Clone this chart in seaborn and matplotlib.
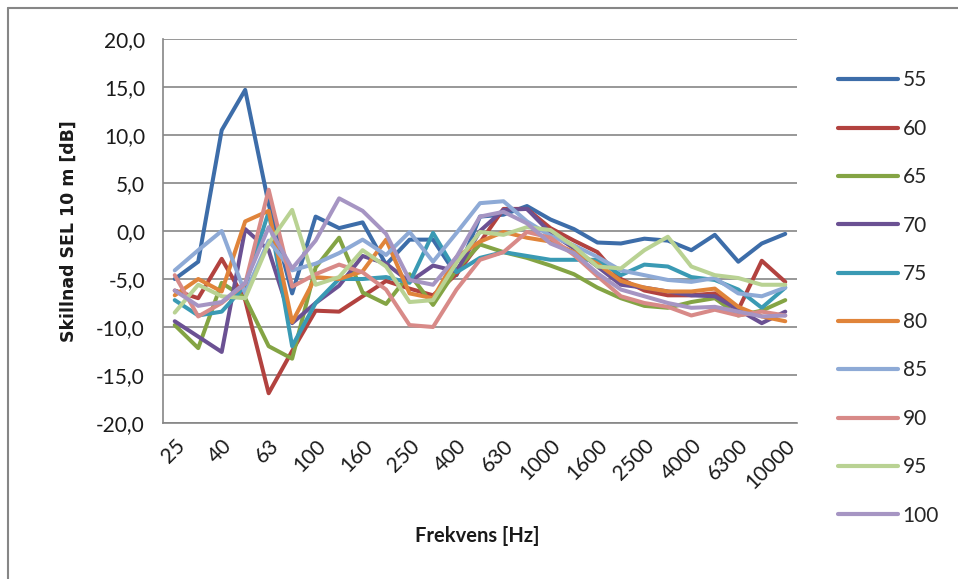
import numpy as np
import pandas as pd
import matplotlib
matplotlib.use("Agg")
import matplotlib.pyplot as plt
import seaborn as sns
from matplotlib.lines import Line2D
from matplotlib.ticker import FuncFormatter, FixedLocator

freqs = ["25", "31.5", "40", "50", "63", "80", "100", "125", "160", "200", "250", "315",
         "400", "500", "630", "800", "1000", "1250", "1600", "2000", "2500", "3150",
         "4000", "5000", "6300", "8000", "10000"]

s55 = [-5.0, -3.2, 10.5, 14.7, 2.8, -6.5, 1.5, 0.3, 0.9, -3.5, -0.9, -0.9, -4.6, 1.5, 1.7, 2.6, 1.2, 0.2, -1.2, -1.3, -0.8, -1.0, -2.0, -0.4, -3.2, -1.3, -0.3]
s60 = [-6.2, -7.0, -2.9, -7.2, -16.9, -12.5, -8.3, -8.4, -6.8, -5.2, -6.0, -6.7, -4.5, -1.2, 2.3, 2.3, 0.3, -1.0, -2.2, -5.0, -6.2, -6.7, -6.7, -6.5, -8.2, -3.1, -5.3]
s65 = [-9.8, -12.2, -5.4, -7.0, -12.0, -13.3, -3.8, -0.7, -6.4, -7.6, -4.5, -7.7, -4.0, -1.4, -2.2, -2.8, -3.6, -4.5, -5.9, -7.0, -7.8, -8.0, -7.4, -7.0, -8.8, -8.3, -7.2]
s70 = [-9.4, -11.0, -12.6, 0.2, -2.0, -9.6, -7.5, -5.7, -2.6, -3.4, -5.3, -3.6, -4.2, 0.0, 2.2, 2.3, -0.2, -1.8, -3.7, -5.6, -5.9, -6.3, -6.7, -6.8, -8.2, -9.6, -8.4]
s75 = [-7.2, -8.8, -8.4, -5.7, 2.0, -12.0, -7.5, -5.0, -5.0, -4.8, -5.4, -0.2, -4.3, -2.8, -2.2, -2.6, -3.0, -3.0, -3.0, -4.6, -3.5, -3.7, -4.8, -5.1, -6.1, -8.0, -5.9]
s80 = [-6.7, -5.0, -6.3, 1.0, 2.1, -9.5, -4.8, -5.0, -4.2, -0.9, -6.5, -7.0, -2.7, -1.1, -0.1, -0.7, -1.1, -2.2, -3.4, -5.2, -5.9, -6.3, -6.3, -6.0, -7.9, -8.9, -9.4]
s85 = [-4.1, -2.0, 0.0, -6.5, -1.0, -4.1, -3.4, -2.3, -0.9, -2.5, -0.1, -3.2, -0.2, 2.9, 3.1, 1.0, -0.5, -1.5, -2.7, -4.1, -4.6, -5.1, -5.3, -4.9, -6.5, -6.8, -5.9]
s90 = [-4.6, -8.9, -7.5, -5.5, 4.3, -5.8, -4.5, -3.5, -4.3, -6.1, -9.8, -10.0, -6.1, -3.0, -2.2, -0.1, -0.7, -2.5, -4.7, -6.8, -7.5, -7.9, -8.8, -8.2, -8.8, -8.4, -8.8]
s95 = [-8.5, -5.6, -6.8, -7.0, -1.3, 2.2, -5.6, -4.8, -2.0, -3.7, -7.4, -7.2, -3.3, -0.1, -0.4, 0.4, 0.1, -1.6, -3.7, -3.9, -2.0, -0.6, -3.7, -4.6, -4.9, -5.6, -5.6]
s100 = [-6.2, -7.8, -7.4, -5.4, 0.4, -3.9, -1.0, 3.4, 2.1, -0.3, -5.1, -5.6, -2.7, 1.5, 2.0, 0.8, -1.3, -2.3, -4.4, -6.1, -6.8, -7.5, -8.0, -7.9, -8.4, -8.9, -8.8]

series_names = ["55", "60", "65", "70", "75", "80", "85", "90", "95", "100"]
series_vals = [s55, s60, s65, s70, s75, s80, s85, s90, s95, s100]
colors = ["#3D6DA9", "#B2423F", "#84A444", "#6B5193", "#3A9AB4", "#E0843A",
          "#8EAAD6", "#D88A88", "#B9D293", "#A695C3"]

rows = []
for name, vals in zip(series_names, series_vals):
    for i, v in enumerate(vals):
        rows.append({"idx": i, "freq": freqs[i], "serie": name, "val": v})
df = pd.DataFrame(rows)

sns.set_style("white")
plt.rcParams["font.family"] = ["Lato", "DejaVu Sans"]

W, H = 958, 579
fig = plt.figure(figsize=(W / 100, H / 100), dpi=100)
ax = fig.add_axes([163 / W, 1 - 423 / H, (797 - 163) / W, (423 - 39) / H])

sns.lineplot(data=df, x="idx", y="val", hue="serie", palette=colors,
             hue_order=series_names, sort=False, linewidth=2.9, ax=ax,
             legend=False, estimator=None)

grid_c = "#868686"
ax.set_xlim(-0.5, len(freqs) - 0.5)
ax.set_ylim(-20, 20)
ax.set_yticks(np.arange(-20, 21, 5))
ax.yaxis.set_major_formatter(FuncFormatter(lambda v, p: f"{v:.1f}".replace(".", ",")))
ax.grid(axis="y", color=grid_c, linewidth=1.2)
ax.set_axisbelow(True)
for s in ["top", "right"]:
    ax.spines[s].set_visible(False)
for s in ["left", "bottom"]:
    ax.spines[s].set_color(grid_c)
    ax.spines[s].set_linewidth(1.2)

ax.set_xticks(range(0, len(freqs), 2))
ax.set_xticklabels([freqs[i] for i in range(0, len(freqs), 2)], rotation=45,
                   ha="right", va="top", rotation_mode="anchor")
ax.xaxis.set_minor_locator(FixedLocator(np.arange(-0.5, len(freqs), 1.0)))
ax.tick_params(axis="x", which="major", length=0, pad=9, labelsize=15, labelcolor="#1a1a1a")
ax.tick_params(axis="x", which="minor", length=6, width=1.2, color=grid_c, direction="out")
ax.tick_params(axis="y", which="major", length=7, width=1.2, color=grid_c, direction="out",
               labelsize=15, pad=6, labelcolor="#1a1a1a")

ax.set_xlabel("Frekvens [Hz]", fontsize=14.5, fontweight="bold", color="#1a1a1a")
ax.set_ylabel("Skillnad SEL 10 m [dB]", fontsize=12.5, fontweight="bold",
              family=["DejaVu Sans"], color="#1a1a1a")
ax.xaxis.set_label_coords(0.495, -0.268)
ax.yaxis.set_label_coords(-0.135, 0.5)

handles = [Line2D([0], [0], color=c, lw=3.0, solid_capstyle="round") for c in colors]
fig.legend(handles, series_names, loc="center left", bbox_to_anchor=(838 / W, 1 - 298 / H),
           frameon=False, fontsize=15, handlelength=2.9, handletextpad=0.2,
           labelspacing=1.36, borderpad=0, borderaxespad=0)

fig.add_artist(Line2D([8 / W, 8 / W], [0, 1 - 8 / H], color=grid_c, lw=1.5))
fig.add_artist(Line2D([8 / W, 1], [1 - 8 / H, 1 - 8 / H], color=grid_c, lw=1.5))

fig.savefig("out.png", dpi=100)
